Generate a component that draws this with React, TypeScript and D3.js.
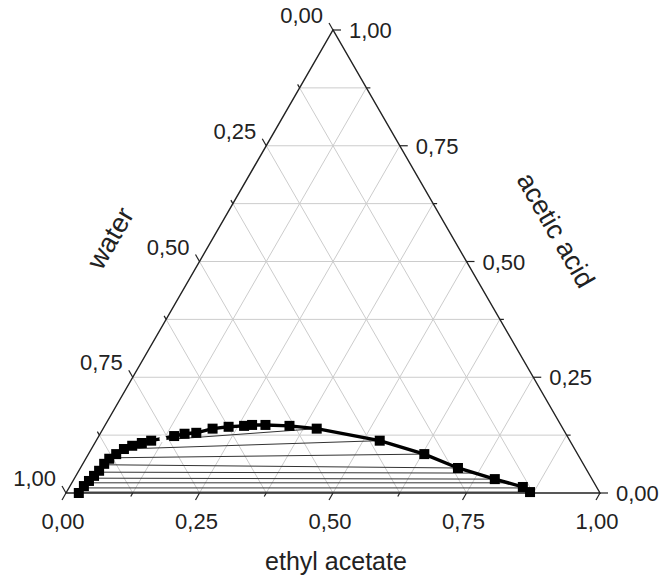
import React from "react";
import * as d3 from "d3";

// Binodal curve (ethyl acetate fraction, acetic acid fraction)
const curveEA = [0.024, 0.026, 0.030, 0.034, 0.038, 0.040, 0.044, 0.052, 0.061, 0.073, 0.088, 0.103, 0.141, 0.158, 0.179, 0.205, 0.233, 0.261, 0.275, 0.300, 0.346, 0.400, 0.531, 0.629, 0.707, 0.788, 0.849, 0.868];
const curveAA = [0.000, 0.015, 0.026, 0.037, 0.048, 0.063, 0.074, 0.084, 0.095, 0.102, 0.108, 0.113, 0.123, 0.128, 0.130, 0.139, 0.143, 0.145, 0.147, 0.147, 0.145, 0.139, 0.113, 0.084, 0.054, 0.030, 0.013, 0.002];
const openEA = [0.123];
const openAA = [0.117];

// Tie-lines: water-rich (left) and ester-rich (right) phases
const tieLeftEA = [0.023, 0.028, 0.032, 0.036, 0.039, 0.041, 0.047, 0.061, 0.103];
const tieLeftAA = [0.002, 0.011, 0.022, 0.032, 0.045, 0.061, 0.076, 0.095, 0.113];
const tieRightEA = [0.868, 0.850, 0.815, 0.788, 0.746, 0.707, 0.629, 0.531, 0.400];
const tieRightAA = [0.002, 0.011, 0.022, 0.030, 0.043, 0.054, 0.084, 0.113, 0.139];

const majorTicks = [0, 0.25, 0.5, 0.75, 1];
const gridValues = [0.125, 0.25, 0.375, 0.5, 0.625, 0.75, 0.875];
const minorTicks = [0.125, 0.375, 0.625, 0.875];
const tickLabels = ["0,00", "0,25", "0,50", "0,75", "1,00"];

const BLx = 66, BRx = 600, BLy = 493, Ty = 30;
const FONT = "Liberation Sans, Arial, sans-serif";

export default function App() {
  const xs = d3.scaleLinear().domain([0, 1]).range([BLx, BRx]);
  const ys = d3.scaleLinear().domain([0, 1]).range([BLy, Ty]);
  const half = (BRx - BLx) / 2;
  // position from (ethyl acetate, acetic acid)
  const P = (ea: number, aa: number): [number, number] => [xs(ea) + aa * half, ys(aa)];

  const grid: [number, number, number, number][] = [];
  gridValues.forEach((k) => {
    let a = P(0, k), b = P(1 - k, k);
    grid.push([a[0], a[1], b[0], b[1]]);
    a = P(k, 0); b = P(k, 1 - k);
    grid.push([a[0], a[1], b[0], b[1]]);
    a = P(1 - k, 0); b = P(0, 1 - k);
    grid.push([a[0], a[1], b[0], b[1]]);
  });

  const line = d3.line<number>().x((i) => P(curveEA[i], curveAA[i])[0]).y((i) => P(curveEA[i], curveAA[i])[1]);
  const idx = d3.range(curveEA.length);

  const tri = [P(0, 0), P(1, 0), P(0, 1)];
  const c60 = 0.5, s60 = Math.sqrt(3) / 2;

  const ticks: JSX.Element[] = [];
  const addTicks = (vals: number[], len: number, key: string) => {
    vals.forEach((v, i) => {
      const pb = P(v, 0);
      ticks.push(<line key={key + "b" + i} x1={pb[0]} y1={pb[1]} x2={pb[0] - c60 * len} y2={pb[1] + s60 * len} />);
      const pl = P(0, 1 - v);
      ticks.push(<line key={key + "l" + i} x1={pl[0]} y1={pl[1]} x2={pl[0] - c60 * len} y2={pl[1] - s60 * len} />);
      const pr = P(1 - v, v);
      ticks.push(<line key={key + "r" + i} x1={pr[0]} y1={pr[1]} x2={pr[0] + len} y2={pr[1]} />);
    });
  };
  addTicks(majorTicks, 8, "M");
  addTicks(minorTicks, 4, "m");

  const lblStyle = { fontFamily: FONT, fontSize: 22, fill: "#222" };

  return (
    <svg width={662} height={580} style={{ position: "absolute", left: 0, top: 0, background: "#fff" }}>
      <g stroke="#cccccc" strokeWidth={1}>
        {grid.map((g, i) => (
          <line key={i} x1={g[0]} y1={g[1]} x2={g[2]} y2={g[3]} />
        ))}
      </g>
      <polygon points={tri.map((p) => p.join(",")).join(" ")} fill="none" stroke="#222" strokeWidth={1.4} />
      <g stroke="#222" strokeWidth={1.2}>{ticks}</g>

      <g stroke="#333" strokeWidth={1}>
        {tieLeftEA.map((_, i) => {
          const a = P(tieLeftEA[i], tieLeftAA[i]);
          const b = P(tieRightEA[i], tieRightAA[i]);
          return <line key={i} x1={a[0]} y1={a[1]} x2={b[0]} y2={b[1]} />;
        })}
      </g>

      <path d={line(idx) || ""} fill="none" stroke="#000" strokeWidth={3.4} />
      <g fill="#000">
        {idx.map((i) => {
          const p = P(curveEA[i], curveAA[i]);
          return <rect key={i} x={p[0] - 5} y={p[1] - 5} width={10} height={10} />;
        })}
      </g>
      {openEA.map((e, i) => {
        const p = P(e, openAA[i]);
        return <circle key={i} cx={p[0]} cy={p[1]} r={3.5} fill="#fff" stroke="none" />;
      })}

      {majorTicks.map((v, i) => {
        const pb = P(v, 0);
        const pl = P(0, 1 - v);
        const pr = P(1 - v, v);
        return (
          <g key={"lab" + i}>
            <text x={pb[0] - 3} y={pb[1] + 36} textAnchor="middle" style={lblStyle}>{tickLabels[i]}</text>
            <text x={pl[0] - 10} y={pl[1] - 7} textAnchor="end" style={lblStyle}>{tickLabels[i]}</text>
            <text x={pr[0] + 16} y={pr[1] + 8} textAnchor="start" style={lblStyle}>{tickLabels[i]}</text>
          </g>
        );
      })}

      <text x={336} y={570} textAnchor="middle" style={{ fontFamily: FONT, fontSize: 25, fill: "#222" }}>ethyl acetate</text>
      <text transform="translate(110,238) rotate(-60)" textAnchor="middle" dy="0.35em" style={{ fontFamily: FONT, fontSize: 27, fill: "#222" }}>water</text>
      <text transform="translate(556,230) rotate(60)" textAnchor="middle" dy="0.35em" style={{ fontFamily: FONT, fontSize: 27, fill: "#222" }}>acetic acid</text>
    </svg>
  );
}
